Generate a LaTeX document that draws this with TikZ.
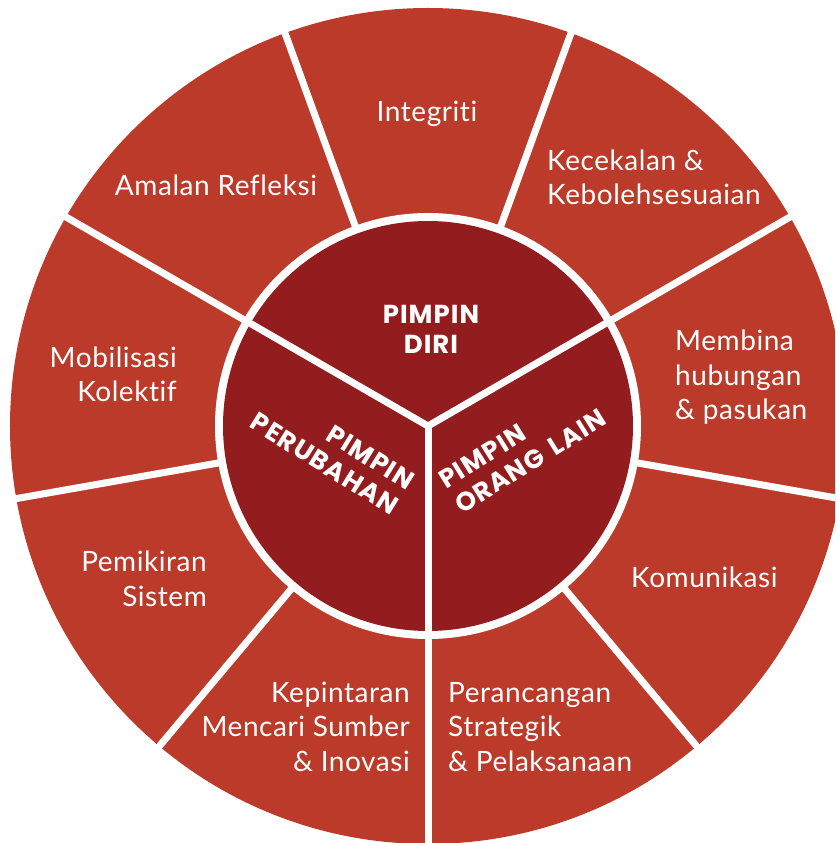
\documentclass[tikz,border=0pt]{standalone}
\usepackage{fontspec}
\setmainfont{Lato}[Ligatures=NoCommon, LetterSpace=2]
\newfontfamily\headfont{Poppins}[LetterSpace=4, WordSpace=1.6]
\usetikzlibrary{positioning}
\definecolor{ringred}{HTML}{BC3A29}
\definecolor{corered}{HTML}{931C1E}
\tikzset{
  every node/.style={text=white, inner sep=0pt},
  petal/.style={font=\fontsize{28}{34.5}\selectfont},
  core/.style={font=\headfont\bfseries\fontsize{26}{30}\selectfont},
  gap/.style={draw=white, line width=7pt},
}

\begin{document}
\begin{tikzpicture}[x=1pt, y=1pt]
  \useasboundingbox (-428,-417) rectangle (407,426);
  \clip (-428,-417) rectangle (407,426);

  % outer ring, nine parts
  \fill[ringred] (0,0) circle (418);
  \foreach \a in {30,70,...,350}
    \draw[gap] (0,0) -- (\a:440);

  % inner disc, three parts
  \fill[white] (0,0) circle (213);
  \fill[corered] (0,0) circle (205);
  \foreach \a in {30,150,270}
    \draw[gap] (0,0) -- (\a:213);

  \node[core, align=center, anchor=base] (diri) at (3,72) {PIMPIN\\DIRI};
  \node[core, align=right, anchor=base east, rotate=-32] (perubahan) at (-37,-90) {PIMPIN\\PERUBAHAN};
  \node[core, align=left, anchor=base west, rotate=32] (oranglain) at (34,-89) {PIMPIN\\ORANG LAIN};

  \node[petal, anchor=base] (integriti) at (-1,304) {Integriti};
  \node[petal, align=left, anchor=base west] (kecekalan) at (119,221) {Kecekalan \&\\Kebolehsesuaian};
  \node[petal, align=left, anchor=base west] (membina) at (247,6) {Membina\\hubungan\\\& pasukan};
  \node[petal, anchor=base west] (komunikasi) at (203,-161) {Komunikasi};
  \node[petal, align=left, anchor=base west] (perancangan) at (20,-345) {Perancangan\\Strategik\\\& Pelaksanaan};
  \node[petal, align=right, anchor=base east] (kepintaran) at (-18,-345) {Kepintaran\\Mencari Sumber\\\& Inovasi};
  \node[petal, align=right, anchor=base east] (pemikiran) at (-221,-180) {Pemikiran\\Sistem};
  \node[petal, align=right, anchor=base east] (mobilisasi) at (-251,24) {Mobilisasi\\Kolektif};
  \node[petal, anchor=base] (refleksi) at (-212,230) {Amalan Refleksi};
\end{tikzpicture}
\end{document}
